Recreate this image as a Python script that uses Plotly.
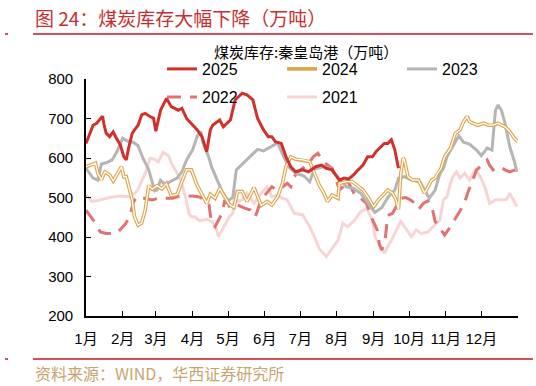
import plotly.graph_objects as go

# ---------------- data (day of year, value in 万吨) ----------------
month_days = [0, 31, 59, 90, 120, 151, 181, 212, 243, 273, 304, 334, 365]
month_labels = ["1月", "2月", "3月", "4月", "5月", "6月", "7月", "8月", "9月", "10月", "11月", "12月", ""]

d2025 = [0, 3, 6, 9, 12, 14, 15, 17, 20, 23, 25, 29, 32, 34, 36, 39, 41, 44, 47, 50,
         54, 57, 59, 63, 68, 72, 78, 81, 85, 89, 94, 98, 102, 105, 107, 113, 116, 122, 126, 132,
         136, 141, 145, 150, 154, 157, 160, 165, 169, 173, 177, 183, 188, 194, 199, 203, 208, 214, 218, 222,
         226, 230, 234, 238, 242, 245, 248, 252, 255, 258, 261, 264]
v2025 = [637, 660, 683, 688, 700, 706, 688, 663, 654, 666, 654, 633, 603, 595, 625, 662, 671, 683, 709, 713,
         705, 701, 668, 721, 751, 730, 721, 726, 700, 688, 671, 654, 616, 671, 683, 696, 679, 696, 747, 764,
         760, 747, 700, 671, 654, 654, 641, 637, 603, 578, 565, 570, 565, 578, 582, 574, 570, 544, 549, 547,
         557, 570, 582, 603, 603, 616, 625, 637, 637, 646, 620, 574]

d2024 = [0, 3, 8, 10, 13, 16, 20, 23, 26, 30, 32, 34, 39, 41, 44, 47, 50, 53, 56, 60,
         64, 68, 72, 77, 81, 85, 89, 94, 98, 102, 105, 109, 113, 117, 121, 125, 128, 132, 136, 142,
         148, 153, 157, 162, 166, 169, 173, 177, 183, 189, 193, 197, 201, 204, 208, 213, 214, 220, 225, 230,
         234, 238, 243, 247, 251, 255, 259, 262, 264, 265, 266, 268, 269, 272, 276, 281, 283, 286, 289, 292,
         295, 297, 300, 303, 308, 312, 316, 319, 322, 324, 327, 331, 336, 340, 344, 348, 354, 358, 362, 365]
v2024 = [578, 582, 587, 561, 545, 565, 557, 542, 557, 578, 552, 553, 494, 451, 430, 435, 468, 530, 521, 530,
         522, 535, 505, 508, 540, 570, 570, 530, 508, 485, 508, 498, 523, 502, 483, 475, 515, 515, 490, 525,
         480, 490, 481, 502, 536, 578, 603, 597, 595, 591, 561, 532, 511, 490, 506, 498, 536, 540, 540, 527,
         519, 502, 477, 494, 506, 519, 511, 494, 470, 519, 561, 600, 595, 553, 544, 544, 532, 511, 527, 544,
         549, 561, 574, 603, 625, 662, 671, 692, 705, 692, 688, 683, 688, 683, 683, 688, 679, 667, 650, 641]

d2023 = [0, 6, 10, 13, 17, 22, 26, 31, 36, 40, 44, 48, 53, 56, 58, 60, 63, 67, 71, 77,
         81, 85, 90, 94, 97, 99, 104, 106, 111, 115, 120, 124, 127, 133, 138, 145, 150, 156, 162, 167,
         172, 178, 184, 189, 193, 200, 206, 210, 215, 220, 226, 232, 237, 244, 250, 255, 261, 264, 269, 275,
         282, 286, 290, 295, 299, 302, 305, 309, 315, 319, 324, 330, 334, 339, 343, 346, 348, 351, 354, 358,
         362, 364]
v2023 = [574, 549, 544, 585, 588, 595, 615, 650, 641, 640, 631, 600, 570, 534, 517, 519, 544, 532, 540, 549,
         565, 595, 620, 655, 667, 637, 600, 578, 544, 515, 492, 500, 570, 587, 603, 622, 618, 627, 638, 603,
         575, 560, 555, 540, 572, 578, 575, 560, 545, 527, 523, 511, 490, 462, 475, 500, 519, 549, 553, 544,
         540, 520, 498, 519, 560, 574, 603, 625, 656, 640, 635, 620, 606, 625, 620, 721, 734, 721, 688, 629,
         591, 565]

d2022 = [0, 2, 8, 12, 17, 26, 33, 37, 40, 43, 50, 56, 61, 73, 77, 90, 95, 101, 104, 106,
         109, 112, 115, 117, 120, 122, 128, 134, 139, 143, 145, 148, 150, 155, 157, 162, 166, 170, 173, 176,
         179, 183, 187, 192, 196, 200, 204, 208, 211, 214, 217, 219, 222, 225, 228, 232, 237, 241, 246, 248,
         250, 253, 255, 259, 266, 270, 274, 278, 281, 285, 289, 292, 295, 299, 300, 303, 308, 313, 319, 323,
         326, 330, 333, 339, 341, 344, 347, 350, 354, 358, 363]
v2022 = [468, 460, 435, 413, 409, 409, 432, 451, 488, 502, 498, 494, 498, 498, 502, 504, 502, 494, 481, 435,
         426, 443, 460, 490, 485, 473, 481, 473, 468, 451, 468, 494, 502, 519, 527, 517, 527, 536, 527, 553,
         565, 574, 582, 603, 612, 591, 582, 574, 549, 519, 527, 544, 536, 519, 502, 498, 485, 451, 418, 380,
         367, 400, 455, 460, 498, 500, 494, 485, 470, 485, 492, 480, 439, 426, 418, 405, 426, 451, 481, 515,
         540, 570, 578, 595, 582, 570, 574, 578, 570, 565, 570]

d2021 = [0, 5, 12, 20, 29, 37, 43, 47, 51, 54, 58, 61, 65, 70, 72, 76, 80, 84, 87, 89,
         92, 96, 102, 106, 109, 112, 115, 119, 121, 124, 126, 128, 132, 136, 142, 148, 153, 157, 162, 166,
         170, 173, 176, 183, 189, 193, 197, 203, 207, 213, 217, 221, 227, 232, 237, 242, 244, 250, 252, 258,
         264, 266, 271, 275, 279, 283, 289, 293, 299, 302, 305, 308, 310, 313, 316, 320, 324, 329, 333, 337,
         341, 346, 350, 355, 358, 361, 364]
v2021 = [506, 490, 494, 500, 504, 502, 515, 540, 568, 599, 597, 590, 614, 605, 587, 567, 544, 502, 460, 451,
         451, 441, 445, 440, 428, 401, 418, 440, 451, 460, 519, 490, 494, 511, 485, 511, 527, 502, 506, 498,
         494, 477, 460, 456, 426, 401, 371, 350, 367, 392, 435, 426, 443, 464, 473, 443, 401, 367, 359, 392,
         426, 439, 418, 401, 418, 409, 413, 426, 443, 494, 502, 536, 553, 565, 549, 561, 544, 570, 553, 527,
         485, 494, 494, 494, 511, 494, 477]

# ---------------- layout helpers ----------------
W, H = 536, 386
PL, PR, PT, PB = 86, 518, 79, 316          # plot area in window pixels


def px(x):
    return (x - PL) / (PR - PL)


def py(y):
    return (PB - y) / (PB - PT)


NUM_FONT = "Liberation Sans, Arial, Noto Sans CJK SC"
CJK_FONT = "Noto Sans CJK SC"

fig = go.Figure()
fig.add_trace(go.Scatter(x=d2021, y=v2021, mode="lines", name="2021",
                         line=dict(color="#F7D5D5", width=3), legend="legend2"))
fig.add_trace(go.Scatter(x=d2022, y=v2022, mode="lines", name="2022",
                         line=dict(color="#E27272", width=3, dash="14px,9px"), legend="legend2"))
fig.add_trace(go.Scatter(x=d2023, y=v2023, mode="lines", name="2023",
                         line=dict(color="#B5B5B5", width=3), legend="legend"))
fig.add_trace(go.Scatter(x=d2024, y=v2024, mode="lines", name="2024",
                         line=dict(color="#DCA54B", width=3.6), legend="legend"))
fig.add_trace(go.Scatter(x=d2024, y=v2024, mode="lines", name="2024 ",
                         line=dict(color="#FFFFFF", width=1.3), showlegend=False, hoverinfo="skip"))
fig.add_trace(go.Scatter(x=d2025, y=v2025, mode="lines", name="2025",
                         line=dict(color="#D2302C", width=3), legend="legend"))

axis_common = dict(showline=True, linecolor="black", linewidth=1.6, ticks="inside",
                   ticklen=5, tickwidth=1.3, tickcolor="black", showgrid=False, zeroline=False)

legend_common = dict(orientation="h", xanchor="left", yanchor="middle",
                     traceorder="reversed", entrywidth=75, entrywidthmode="pixels",
                     bgcolor="rgba(0,0,0,0)", font=dict(family=NUM_FONT, size=16),
                     tracegroupgap=0, itemwidth=30)

fig.update_layout(
    width=W, height=H,
    margin=dict(l=PL, r=W - PR, t=PT, b=H - PB, pad=0, autoexpand=False),
    paper_bgcolor="white", plot_bgcolor="white",
    font=dict(family=NUM_FONT, size=15, color="black"),
    xaxis=dict(range=[0, 365], tickmode="array", tickvals=month_days, ticktext=month_labels,
               tickfont=dict(family=NUM_FONT, size=15), ticklabelstandoff=8, **axis_common),
    yaxis=dict(range=[200, 800], tickmode="linear", tick0=200, dtick=100,
               tickfont=dict(family=NUM_FONT, size=15), ticklabelstandoff=8, **axis_common),
    legend=dict(x=px(162), y=py(69), **legend_common),
    legend2=dict(x=px(162), y=py(97), **legend_common),
    showlegend=True,
)

# title, legend caption and source
fig.add_annotation(text="图 24：煤炭库存大幅下降（万吨）", xref="paper", yref="paper",
                   x=px(33), y=py(17), xanchor="left", yanchor="middle", showarrow=False,
                   font=dict(family=CJK_FONT, size=19, color="#C62F2F"))
fig.add_annotation(text="煤炭库存:秦皇岛港（万吨）", xref="paper", yref="paper",
                   x=px(306), y=py(51), xanchor="center", yanchor="middle", showarrow=False,
                   font=dict(family=CJK_FONT, size=15, color="black"))
fig.add_annotation(text="资料来源：WIND，华西证券研究所", xref="paper", yref="paper",
                   x=px(33), y=py(373), xanchor="left", yanchor="middle", showarrow=False,
                   font=dict(family=CJK_FONT, size=16, color="#C9A46E"))

# decorative red rules
for yy in (34, 359):
    fig.add_shape(type="line", xref="paper", yref="paper", x0=px(33), x1=px(533),
                  y0=py(yy), y1=py(yy), line=dict(color="#C8161D", width=1.5))
    fig.add_shape(type="line", xref="paper", yref="paper", x0=px(5), x1=px(8),
                  y0=py(yy), y1=py(yy), line=dict(color="#C8161D", width=1.5))

# remove the default 8px page margin so the figure fills the window exactly
fig.write_html("out.html",
               config={"displayModeBar": False},
               post_script="document.body.style.margin='0px';document.body.style.overflow='hidden';")
